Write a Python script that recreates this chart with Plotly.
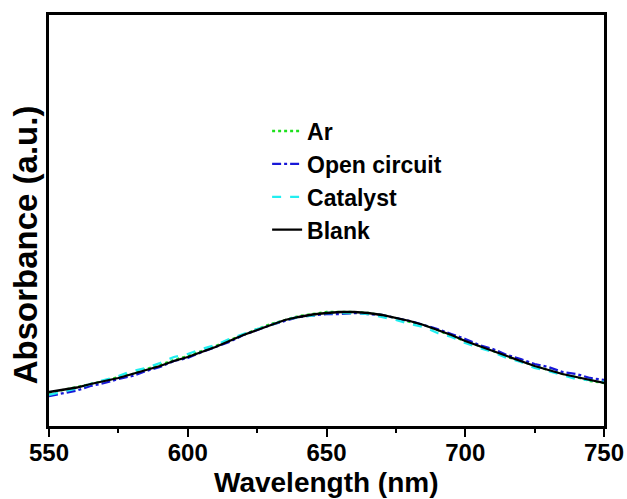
import plotly.graph_objects as go

wavelength = list(range(550, 751, 5))

ar = [0.237, 0.240, 0.243, 0.246, 0.249, 0.253, 0.256, 0.261, 0.265, 0.270,
      0.274, 0.279, 0.284, 0.290, 0.295, 0.301, 0.306, 0.310, 0.314, 0.316,
      0.318, 0.318, 0.318, 0.317, 0.315, 0.312, 0.308, 0.305, 0.300, 0.294,
      0.289, 0.284, 0.279, 0.273, 0.269, 0.264, 0.260, 0.256, 0.253, 0.249, 0.247]

open_circuit = [0.234, 0.237, 0.2395, 0.244, 0.247, 0.251, 0.254, 0.259, 0.263, 0.269,
                0.272, 0.278, 0.283, 0.288, 0.295, 0.300, 0.305, 0.309, 0.313, 0.3145,
                0.316, 0.316, 0.317, 0.316, 0.315, 0.312, 0.309, 0.305, 0.301, 0.296,
                0.291, 0.285, 0.281, 0.275, 0.271, 0.266, 0.263, 0.258, 0.256, 0.252, 0.250]

catalyst = [0.235, 0.238, 0.2415, 0.246, 0.250, 0.254, 0.259, 0.262, 0.267, 0.273,
            0.276, 0.281, 0.285, 0.291, 0.296, 0.301, 0.305, 0.310, 0.313, 0.3145,
            0.317, 0.317, 0.317, 0.316, 0.313, 0.310, 0.306, 0.303, 0.297, 0.293,
            0.287, 0.282, 0.278, 0.272, 0.268, 0.262, 0.259, 0.255, 0.251, 0.250, 0.248]

blank = [0.238, 0.240, 0.2425, 0.246, 0.249, 0.252, 0.256, 0.260, 0.264, 0.269,
         0.273, 0.278, 0.283, 0.289, 0.295, 0.300, 0.305, 0.310, 0.313, 0.3155,
         0.317, 0.318, 0.318, 0.317, 0.315, 0.312, 0.309, 0.305, 0.300, 0.295,
         0.289, 0.284, 0.279, 0.274, 0.269, 0.264, 0.260, 0.256, 0.253, 0.250, 0.247]

series_names = ["Ar", "Open circuit", "Catalyst", "Blank"]
x_ticks = [550, 600, 650, 700, 750]

FONT = "Arial, 'Liberation Sans', sans-serif"

fig = go.Figure()
styles = [
    ("#1ee01e", "dot"),
    ("#1818d8", "dashdot"),
    ("#22eef0", "dash"),
    ("#000000", "solid"),
]
for name, ys, (col, dash) in zip(series_names, [ar, open_circuit, catalyst, blank], styles):
    fig.add_trace(go.Scatter(
        x=wavelength, y=ys, mode="lines", name=name,
        line=dict(color=col, width=2.3, dash=dash),
    ))

fig.update_layout(
    width=627, height=499,
    margin=dict(l=49, r=23, t=15, b=73, autoexpand=False),
    paper_bgcolor="white", plot_bgcolor="white",
    font=dict(family=FONT, color="black"),
    showlegend=True,
    legend=dict(
        x=0.393, y=0.77, xanchor="left", yanchor="top",
        bgcolor="rgba(0,0,0,0)",
        font=dict(family=FONT, size=23, color="black", weight="bold"),
        itemwidth=30,
    ),
    xaxis=dict(
        range=[550, 750], tickvals=x_ticks, ticktext=[str(t) for t in x_ticks],
        showgrid=False, zeroline=False, automargin=False,
        showline=True, linecolor="black", linewidth=2.5, mirror=True,
        ticks="outside", ticklen=8, tickwidth=2, tickcolor="black",
        tickfont=dict(family=FONT, size=24, color="black", weight="bold"),
        ticklabelstandoff=-5,
        minor=dict(dtick=25, tick0=550, ticks="outside", ticklen=4, tickwidth=2, tickcolor="black", showgrid=False),
    ),
    yaxis=dict(
        range=[0.204, 0.615],
        showgrid=False, zeroline=False, automargin=False,
        showline=True, linecolor="black", linewidth=2.5, mirror=True,
        ticks="", showticklabels=False,
    ),
    annotations=[
        dict(text="Wavelength (nm)", xref="paper", yref="paper", x=0.5, y=-0.138,
             xanchor="center", yanchor="middle", showarrow=False,
             font=dict(family=FONT, size=28, color="black", weight="bold")),
        dict(text="Absorbance (a.u.)", xref="paper", yref="paper", x=-0.043, y=0.44,
             xanchor="center", yanchor="middle", showarrow=False, textangle=-90,
             font=dict(family=FONT, size=33, color="black", weight="bold")),
    ],
)

fig.write_html("out.html")
